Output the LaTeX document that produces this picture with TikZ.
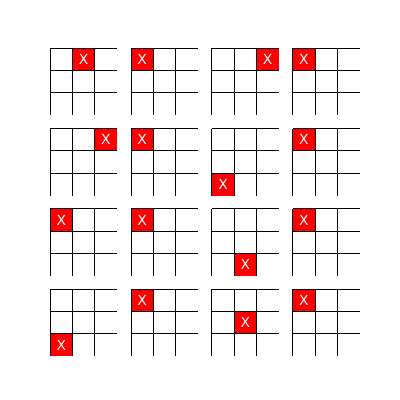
\documentclass[tikz,border=0pt]{standalone}
\usepackage{fontspec}
\setsansfont{DejaVu Sans}
\usetikzlibrary{positioning}
\tikzset{
  gridline/.style={black, line width=1.1pt},
  xcell/.style={fill=red, draw=none},
  xlabel/.style={text=white, font=\sffamily\fontsize{13.9}{16}\selectfont, inner sep=0pt},
}
\begin{document}
\begin{tikzpicture}[x=1pt,y=-1pt]
\useasboundingbox (0,0) rectangle (400,400);
% row/column of the board, then row/column of the marked cell
\foreach \r/\c/\i/\j in {0/0/0/1, 0/1/0/0, 0/2/0/2, 0/3/0/0,
                         1/0/0/2, 1/1/0/0, 1/2/2/0, 1/3/0/0,
                         2/0/0/0, 2/1/0/0, 2/2/2/1, 2/3/0/0,
                         3/0/2/0, 3/1/0/0, 3/2/1/1, 3/3/0/0}{
  \begin{scope}[shift={(50.2+80.87*\c, 48.2+80.35*\r)}, x=22.32pt, y=-22.32pt]
    \fill[xcell] (\j,\i) rectangle ++(1,1);
    \node[xlabel] (x-\r-\c) at (\j+0.5,\i+0.5) {X};
    \foreach \k in {0,1,2} {
      \draw[gridline] (0,\k) -- (3,\k);
      \draw[gridline] (\k,0) -- (\k,3);
    }
  \end{scope}
}
\end{tikzpicture}
\end{document}
